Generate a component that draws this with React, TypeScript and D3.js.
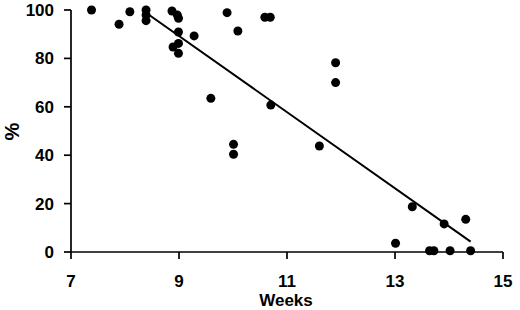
import React from "react";
import * as d3 from "d3";

const weeks = [7.38, 7.89, 8.09, 8.39, 8.39, 8.39, 8.87, 8.97, 8.99, 8.99, 8.89, 8.99, 8.99, 9.28, 9.59, 9.89, 10.09, 10.01, 10.01, 10.59, 10.69, 11.9, 11.9, 10.7, 11.6, 13.32, 13.91, 14.31, 13.01, 13.64, 13.72, 14.02, 14.4];
const pct = [100, 94.1, 99.3, 100, 97.9, 95.6, 99.6, 97.9, 96.6, 90.9, 84.7, 86.2, 82.1, 89.3, 63.5, 98.9, 91.3, 44.5, 40.4, 97, 97, 78.2, 70, 60.7, 43.8, 18.7, 11.6, 13.5, 3.6, 0.5, 0.5, 0.5, 0.5];
const fitWeeks = [8.33, 14.4];
const fitPct = [99.8, 4.3];
const xTicks = [7, 9, 11, 13, 15];
const yTicks = [0, 20, 40, 60, 80, 100];

export default function App() {
  const x = d3.scaleLinear().domain([7, 15]).range([71, 503]);
  const y = d3.scaleLinear().domain([0, 100]).range([252, 10]);
  const line = d3
    .line<number>()
    .x((d, i) => x(fitWeeks[i]))
    .y((d) => y(d));
  const font = "'Liberation Sans', Arial, sans-serif";
  return (
    <svg
      width={520}
      height={310}
      style={{ position: "absolute", left: 0, top: 0, background: "#fff" }}
      fontFamily={font}
      fontWeight="bold"
    >
      <line x1={x(7)} x2={x(15)} y1={y(0)} y2={y(0)} stroke="#000" strokeWidth={1.7} />
      <line x1={x(7)} x2={x(7)} y1={y(100)} y2={y(0)} stroke="#000" strokeWidth={1.7} />
      {xTicks.map((t) => (
        <g key={"x" + t}>
          <line x1={x(t)} x2={x(t)} y1={y(0)} y2={y(0) + 7} stroke="#000" strokeWidth={1.7} />
          <text x={x(t)} y={287} textAnchor="middle" fontSize={17}>
            {t}
          </text>
        </g>
      ))}
      {yTicks.map((t) => (
        <g key={"y" + t}>
          <line x1={x(7) - 7} x2={x(7)} y1={y(t)} y2={y(t)} stroke="#000" strokeWidth={1.7} />
          <text x={54} y={y(t) + 6} textAnchor="end" fontSize={17}>
            {t}
          </text>
        </g>
      ))}
      <text x={286} y={306} textAnchor="middle" fontSize={17}>
        Weeks
      </text>
      <text
        transform="translate(19,131.5) rotate(-90)"
        textAnchor="middle"
        fontSize={20}
      >
        %
      </text>
      <path d={line(fitPct) || ""} fill="none" stroke="#000" strokeWidth={2} />
      {weeks.map((w, i) => (
        <circle key={i} cx={x(w)} cy={y(pct[i])} r={4.5} fill="#000" />
      ))}
    </svg>
  );
}
